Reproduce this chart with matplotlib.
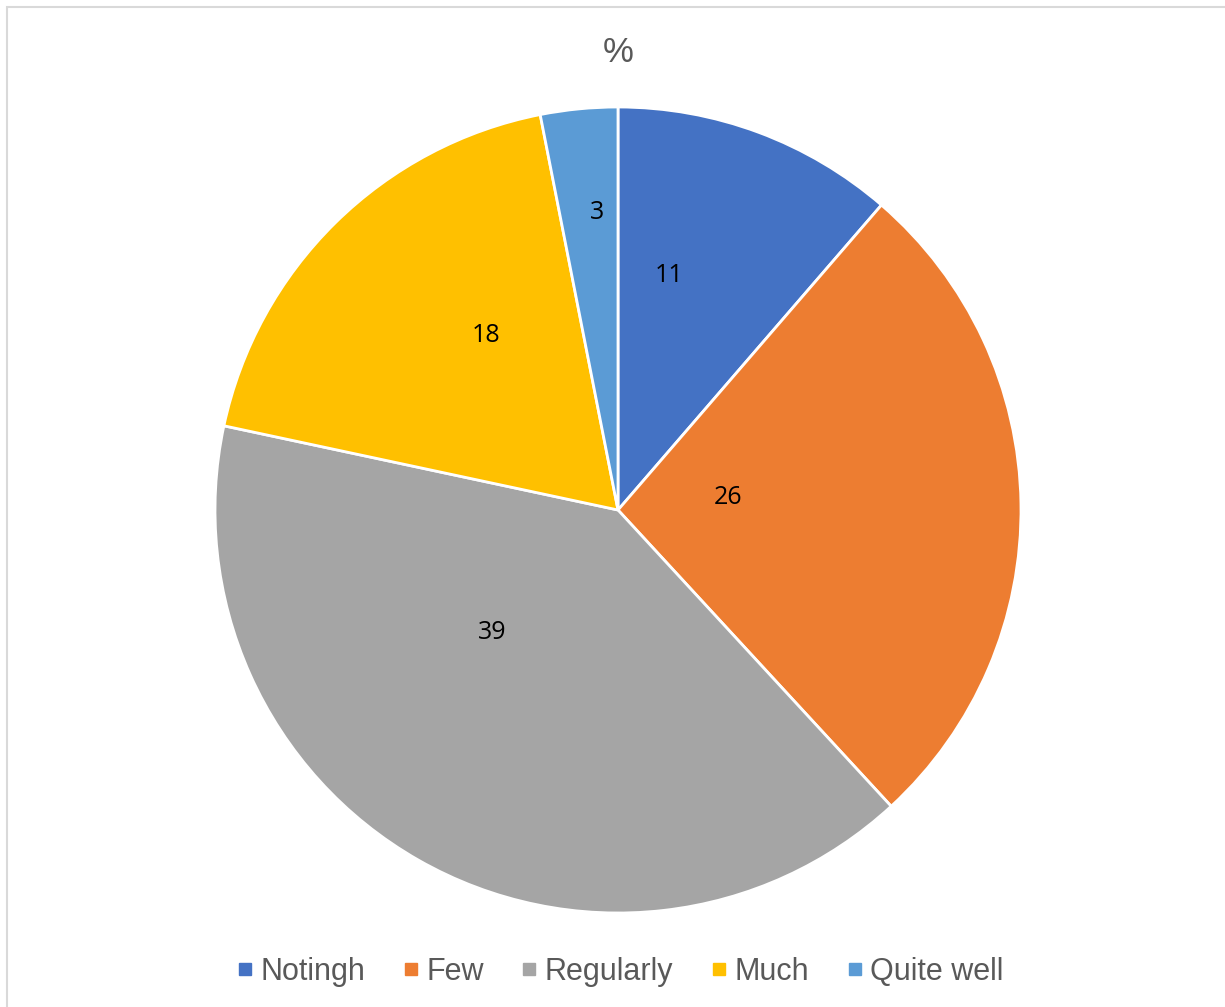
import matplotlib.pyplot as plt
from matplotlib.lines import Line2D
from matplotlib.patches import Rectangle

# data
labels = ['Notingh', 'Few', 'Regularly', 'Much', 'Quite well']
values = [11, 26, 39, 18, 3]
colors = ['#4472C4', '#ED7D31', '#A5A5A5', '#FFC000', '#5B9BD5']
# where each number sits, as fractions of the radius (x, y)
label_xy = [(0.127, 0.581), (0.273, 0.030), (-0.313, -0.303),
            (-0.328, 0.432), (-0.052, 0.739)]

fig = plt.figure(figsize=(12.25, 10.07), dpi=100)

# light frame like the Excel chart area
fig.patches.append(Rectangle((7 / 1225, -0.1), 1.2, (1007 - 7) / 1007 + 0.1,
                             transform=fig.transFigure, fill=False,
                             edgecolor='#D9D9D9', linewidth=1.5))

cx, cy, r = 618, 510, 403
ax = fig.add_axes([(cx - r) / 1225, (1007 - cy - r) / 1007, 2 * r / 1225, 2 * r / 1007])

wedges, _ = ax.pie(values, colors=colors, startangle=90, counterclock=False,
                   radius=1, wedgeprops=dict(edgecolor='white', linewidth=2))
ax.set_xlim(-1, 1)
ax.set_ylim(-1, 1)
ax.axis('off')

# value labels
for v, (x, y) in zip(values, label_xy):
    ax.text(x, y, str(v), ha='center', va='center',
            fontsize=18, color='black', family='Open Sans')

fig.text(cx / 1225, 1 - 52 / 1007, '%', ha='center', va='center',
         fontsize=25, color='#595959', family='Liberation Sans')

handles = [Line2D([], [], marker='s', linestyle='none', markersize=8,
                  markerfacecolor=c, markeredgecolor=c) for c in colors]
fig.legend(handles, labels, loc='center', bbox_to_anchor=(cx / 1225, 1 - 972 / 1007),
           ncol=5, frameon=False, handletextpad=0.1, columnspacing=1.1,
           handlelength=0.8, prop=dict(family='Liberation Sans', size=22),
           labelcolor='#595959')

plt.savefig('out.png')
